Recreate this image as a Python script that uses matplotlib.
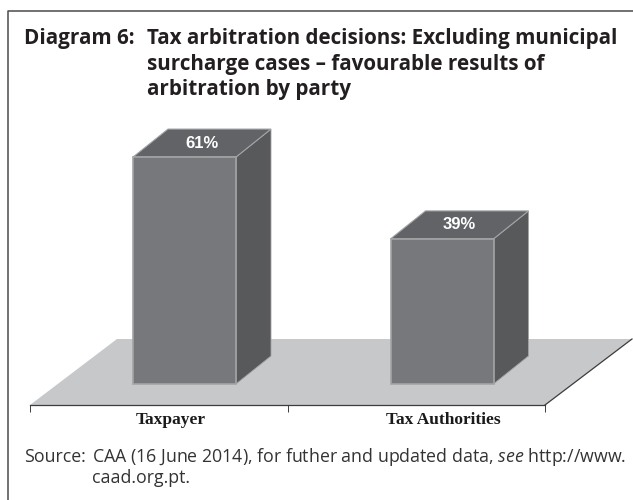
import matplotlib
matplotlib.use("Agg")
import matplotlib.pyplot as plt
from matplotlib.patches import Polygon

categories = ["Taxpayer", "Tax Authorities"]
values = [61, 39]
value_labels = ["61%", "39%"]

W, H = 633, 500
PX_PER_UNIT = 3.72      # vertical pixels per percentage point
PX_PER_CAT = 257.5      # horizontal pixels per category
FLOOR_DROP = 5.65       # front floor edge sits below the bar base, in percent units
DX = 35 / PX_PER_CAT    # depth offset of the 3D boxes
DY = 28 / PX_PER_UNIT
BAR_W = 103 / PX_PER_CAT
BAR_SHIFT = 0.10

FRONT = "#77787b"
SIDE = "#58595b"
TOP = "#626366"
EDGE = "#a3a4a6"
FLOOR = "#c7c8ca"

plt.rcParams["mathtext.fontset"] = "custom"
plt.rcParams["mathtext.it"] = "Open Sans:italic"

fig = plt.figure(figsize=(W / 100, H / 100), dpi=100)

# frame around the panel
fig.add_artist(plt.Line2D([8 / W, 8 / W, 1], [0, 1 - 11 / H, 1 - 11 / H],
                          color="#4a4a4a", lw=1.1))

left, right, base_y = 30, 545, 405
ax_h = 330
ax = fig.add_axes([left / W, 1 - base_y / H, (right - left) / W, ax_h / H])
ax.set_xlim(0, 2)
ax.set_ylim(-FLOOR_DROP, -FLOOR_DROP + ax_h / PX_PER_UNIT)
ax.patch.set_visible(False)

# floor
floor_dx = 87 / PX_PER_CAT
floor_dy = 66 / PX_PER_UNIT
ax.add_patch(Polygon([(0, -FLOOR_DROP), (2, -FLOOR_DROP),
                      (2 + floor_dx, -FLOOR_DROP + floor_dy),
                      (floor_dx, -FLOOR_DROP + floor_dy)],
                     facecolor=FLOOR, edgecolor="none", clip_on=False, zorder=1))
ax.plot([2, 2 + floor_dx], [-FLOOR_DROP, -FLOOR_DROP + floor_dy],
        color="#3c3c3c", lw=0.9, clip_on=False, zorder=1.5)

# 3D boxes
for i, (val, lab) in enumerate(zip(values, value_labels)):
    x0 = i + 0.5 + BAR_SHIFT - BAR_W / 2
    x1 = x0 + BAR_W
    ax.bar(x0, val, width=BAR_W, align="edge", color=FRONT, edgecolor=EDGE,
           linewidth=1.2, zorder=3)
    ax.add_patch(Polygon([(x1, 0), (x1 + DX, DY), (x1 + DX, val + DY), (x1, val)],
                         facecolor=SIDE, edgecolor=EDGE, lw=0.6, zorder=2.5))
    ax.add_patch(Polygon([(x0, val), (x1, val), (x1 + DX, val + DY), (x0 + DX, val + DY)],
                         facecolor=TOP, edgecolor=EDGE, lw=0.8, zorder=2.5))
    ax.text(x0 + DX / 2 + BAR_W / 2, val + DY * 0.5, lab, color="white",
            fontsize=12, fontweight="bold", family="Liberation Sans",
            ha="center", va="center", zorder=4)

for side in ("left", "right", "top"):
    ax.spines[side].set_visible(False)
ax.spines["bottom"].set_color("#3c3c3c")
ax.spines["bottom"].set_linewidth(0.9)
ax.set_yticks([])
ax.set_xticks([0, 1, 2])
ax.set_xticklabels([])
ax.tick_params(axis="x", direction="out", length=5, width=0.7, color="#3c3c3c")
ax.set_xticks([0.546, 1.607], minor=True)
ax.set_xticklabels(categories, minor=True, fontsize=12.5, fontweight="bold",
                   family="Liberation Serif", color="#1a1a1a")
ax.tick_params(axis="x", which="minor", length=0, pad=5)


def put(x, y, s, **kw):
    fig.text(x / W, 1 - y / H, s, va="center", ha="left", **kw)


title_kw = dict(family="Open Sans", fontweight="bold", fontsize=14.9, color="#231f20")
put(24, 38.5, "Diagram 6:", **title_kw)
put(147, 38.5, "Tax arbitration decisions: Excluding municipal", **title_kw)
put(147, 64.5, "surcharge cases – favourable results of", **title_kw)
put(147, 89.5, "arbitration by party", **title_kw)

src_kw = dict(family="Open Sans", fontsize=12.8, color="#333333")
put(24, 457, "Source:", **src_kw)
put(92, 457, "CAA (16 June 2014), for futher and updated data, $\\mathit{see}$ http://www.", **src_kw)
put(92, 478, "caad.org.pt.", **src_kw)

fig.savefig("out.png", dpi=100)
